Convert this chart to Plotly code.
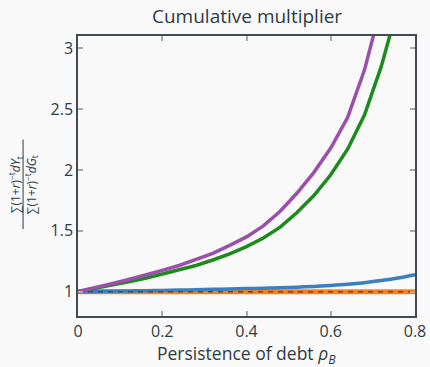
import plotly.graph_objects as go

rho = [0.00, 0.04, 0.08, 0.12, 0.16, 0.20, 0.24, 0.28, 0.32, 0.36, 0.40,
       0.44, 0.48, 0.52, 0.56, 0.60, 0.64, 0.68, 0.72, 0.76, 0.80]
purple = [1.00, 1.03, 1.065, 1.10, 1.135, 1.175, 1.215, 1.265, 1.315, 1.38, 1.45,
          1.54, 1.66, 1.81, 1.98, 2.18, 2.43, 2.82, 3.35, 4.1, 5.2]
green = [1.00, 1.025, 1.05, 1.08, 1.11, 1.145, 1.18, 1.215, 1.26, 1.31, 1.37,
         1.44, 1.53, 1.65, 1.79, 1.96, 2.17, 2.45, 2.85, 3.35, 4.2]
blue = [1.0, 1.002, 1.004, 1.006, 1.008, 1.010, 1.013, 1.016, 1.019, 1.022, 1.025,
        1.028, 1.032, 1.037, 1.043, 1.051, 1.061, 1.074, 1.091, 1.112, 1.14]
orange = [1.0] * len(rho)
ref_line = [1.0] * len(rho)

xticks = [0, 0.2, 0.4, 0.6, 0.8]
xticklabels = ["0", "0.2", "0.4", "0.6", "0.8"]
yticks = [1, 1.5, 2, 2.5, 3]
yticklabels = ["1", "1.5", "2", "2.5", "3"]

text_col = "#2e3b43"
axis_col = "#3d4c55"
font_family = "Open Sans, Noto Sans, sans-serif"

fig = go.Figure()
fig.add_trace(go.Scatter(x=rho, y=orange, mode="lines",
                         line=dict(color="#ff7f0e", width=5), showlegend=False))
fig.add_trace(go.Scatter(x=rho, y=blue, mode="lines",
                         line=dict(color="#3a7fbf", width=3.5, shape="spline"), showlegend=False))
fig.add_trace(go.Scatter(x=rho, y=green, mode="lines",
                         line=dict(color="#1d8a1d", width=3.5), showlegend=False))
fig.add_trace(go.Scatter(x=rho, y=purple, mode="lines",
                         line=dict(color="#9b4fab", width=3.5), showlegend=False))
fig.add_trace(go.Scatter(x=rho, y=ref_line, mode="lines",
                         line=dict(color="#4a4a4a", width=1.5, dash="5px,5px"), showlegend=False))

fig.update_layout(
    width=430, height=367,
    margin=dict(l=78, r=15, t=36, b=51, autoexpand=False),
    paper_bgcolor="#f9f9f9", plot_bgcolor="#f9f9f9",
    font=dict(family=font_family, color=text_col, size=16),
)
fig.update_xaxes(range=[0, 0.8], tickvals=xticks, ticktext=xticklabels,
                 ticks="inside", ticklen=5, tickcolor="#aaaaaa", tickwidth=1.5,
                 showline=True, linecolor=axis_col, linewidth=1.5, mirror="ticks",
                 showgrid=False, zeroline=False, automargin=False,
                 tickfont=dict(size=16, color=text_col))
fig.update_yaxes(range=[0.8, 3.1], tickvals=yticks, ticktext=yticklabels,
                 ticks="inside", ticklen=5, tickcolor="#aaaaaa", tickwidth=1.5,
                 showline=True, linecolor=axis_col, linewidth=1.5, mirror="ticks",
                 showgrid=False, zeroline=False, automargin=False,
                 tickfont=dict(size=16, color=text_col))

# title
fig.add_annotation(text="Cumulative multiplier", xref="paper", yref="paper",
                   x=0.5, y=1.0714, xanchor="center", yanchor="middle",
                   showarrow=False, font=dict(size=19, color=text_col))
# x-axis title
fig.add_annotation(text="Persistence of debt <i>ρ<sub>B</sub></i>", xref="paper", yref="paper",
                   x=0.5, y=-0.136, xanchor="center", yanchor="middle",
                   showarrow=False, font=dict(size=17.5, color=text_col))
# y-axis label (fraction)
fig.add_annotation(
    text="∑(1+<i>r</i>)<sup>−t</sup><i>dY</i><sub>t</sub><br>∑(1+<i>r</i>)<sup>−t</sup><i>dG</i><sub>t</sub>",
    xref="paper", yref="paper", x=-0.161, y=0.47, xanchor="center", yanchor="middle",
    textangle=-90, showarrow=False, font=dict(size=12, color=text_col))
fig.add_shape(type="line", xref="paper", yref="paper",
              x0=-0.163, x1=-0.163, y0=0.31, y1=0.63,
              line=dict(color=text_col, width=1))

fig.write_html("out.html")
